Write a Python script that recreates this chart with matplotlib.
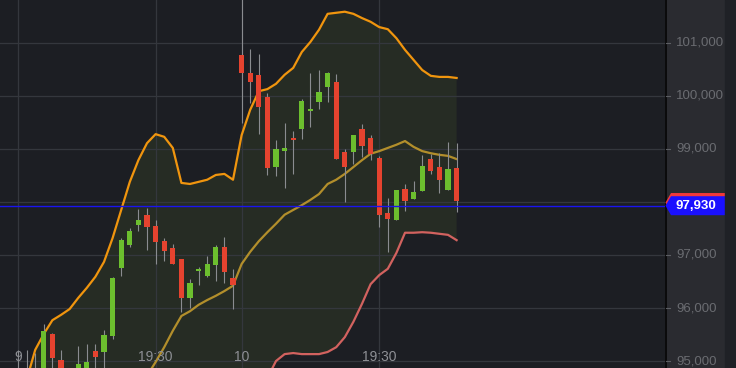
import matplotlib
matplotlib.use('Agg')
import matplotlib.pyplot as plt
import numpy as np
from matplotlib.patches import Polygon
import matplotlib.transforms as mtransforms

plt.rcParams['font.family'] = ['Liberation Sans', 'DejaVu Sans']

# OHLC candles (index = bar number)
opens = [94750, 94700, 94780, 94750, 95510, 95020, 94750, 94700, 94800, 95190,
         95170, 95470, 96760, 97190, 97570, 97755, 97550, 97260, 97130, 96920,
         96190, 96700, 96600, 96810, 97150, 96570, 100770, 100430, 100400, 99980,
         98660, 98960, 99210, 99380, 99717, 99890, 100170, 100260, 98940, 98940,
         99380, 99210, 98830, 97790, 97660, 98250, 98060, 98210, 98810, 98660,
         98230, 98640]
highs = [95200, 95210, 95150, 95700, 95530, 95210, 94820, 95280, 95320, 95320,
         95580, 96580, 97320, 97510, 97870, 97890, 97660, 97320, 97210, 96930,
         96550, 96770, 96980, 97190, 97340, 96740, 101950, 100890, 100790, 100060,
         99170, 99490, 99340, 99940, 100430, 100490, 100450, 100420, 99000, 99260,
         99470, 99260, 98870, 98080, 98230, 98340, 98400, 98890, 98910, 98920,
         99130, 99110]
lows = [94600, 94550, 94600, 94650, 94700, 94600, 94550, 94600, 94700, 94800,
        94850, 95420, 96600, 97150, 97450, 97090, 96830, 96890, 96830, 95920,
        96000, 96430, 96590, 96510, 96470, 95980, 99490, 99870, 99280, 98510,
        98490, 98260, 98530, 99190, 99420, 99760, 99890, 98810, 98000, 98720,
        98850, 98790, 97530, 97060, 97660, 97830, 98060, 98210, 98530, 98170,
        98230, 97810]
closes = [94820, 94800, 94720, 95566, 95060, 94700, 94650, 94940, 94980, 95080,
          95490, 96570, 97280, 97450, 97660, 97530, 97250, 97080, 96830, 96190,
          96470, 96740, 96830, 97150, 96680, 96430, 100430, 100260, 99790, 98640,
          99000, 99020, 99170, 99910, 99755, 100080, 100430, 98810, 98660, 99260,
          99060, 98910, 97750, 97680, 98230, 98020, 98190, 98680, 98590, 98420,
          98620, 98020]

# bollinger bands
upper_band = [94260, 94640, 95210, 95510, 95770, 95870, 95980, 96190, 96380, 96590,
              96870, 97320, 97850, 98380, 98790, 99110, 99280, 99230, 99020, 98360,
              98340, 98380, 98420, 98510, 98530, 98420, 99260, 99740, 100090, 100130,
              100230, 100400, 100530, 100830, 101020, 101250, 101550, 101570, 101590, 101550,
              101470, 101400, 101300, 101260, 101090, 100870, 100680, 100490, 100380, 100360,
              100360, 100340]
middle_band = [np.nan] * 14 + [
    94430, 94720, 94980, 95260, 95570, 95850, 95940, 96060, 96150, 96230,
    96320, 96420, 96830, 97060, 97260, 97430, 97590, 97760, 97850, 97940,
    98040, 98150, 98340, 98420, 98530, 98660, 98790, 98910, 98960, 99020,
    99080, 99150, 99040, 98960, 98920, 98890, 98870, 98810]
lower_band = [np.nan] * 28 + [
    94360, 94680, 95000, 95130, 95150, 95130, 95130, 95130, 95170, 95260,
    95450, 95740, 96080, 96450, 96620, 96740, 97040, 97420, 97420, 97430,
    97420, 97400, 97380, 97280]

time_ticks = [0, 16, 26, 42]
time_labels = ['9', '19:30', '10', '19:30']
price_ticks = [95000, 96000, 97000, 98000, 99000, 100000, 101000]
marker_price = 97930

bg = '#1c1e23'
grid_col = '#34373d'
up_col = '#6cbf2e'
down_col = '#e5432f'

W, H = 736, 368
fig = plt.figure(figsize=(W / 100, H / 100), dpi=100)
fig.patch.set_facecolor(bg)

ax = fig.add_axes([0, 0, 665 / W, 1])
ax.set_facecolor(bg)
ymin, ymax = 94868, 101811
ax.set_xlim(-2.093, 75.23)
ax.set_ylim(ymin, ymax)
for s in ax.spines.values():
    s.set_visible(False)
ax.set_xticks([])
ax.set_yticks([])

x = np.arange(len(closes))
up = np.array(upper_band, dtype=float)
mid = np.array(middle_band, dtype=float)
low = np.array(lower_band, dtype=float)

# band fill
ax.fill_between(x, up, np.where(np.isnan(low), ymin - 2000, low),
                color='#262c24', zorder=0.5, linewidth=0)

# grid
for p in price_ticks:
    ax.axhline(p, color=grid_col, lw=0.9, zorder=1)
for t in time_ticks:
    ax.axvline(t, color=grid_col, lw=0.9, zorder=1)

ax.plot(x, up, color='#f0950e', lw=1.6, zorder=3)
ax.plot(x, mid, color='#c29a2c', lw=1.6, alpha=0.9, zorder=3)
ax.plot(x, low, color='#d2625f', lw=1.6, zorder=3)

# candles
o = np.array(opens)
c = np.array(closes)
colors = [up_col if cc >= oo else down_col for oo, cc in zip(o, c)]
ax.vlines(x, lows, highs, color='#8a8c90', lw=0.8, zorder=4)
body = np.maximum(np.abs(c - o), 30)
ax.bar(x, body, bottom=np.minimum(o, c), width=0.6, color=colors, zorder=5, linewidth=0)

ax.axhline(marker_price, color='#1a14f0', lw=1.0, zorder=6)

trans = mtransforms.blended_transform_factory(ax.transData, ax.transAxes)
for t, lab in zip(time_ticks, time_labels):
    ax.text(t, 1 - 357 / H, lab, transform=trans, ha='center', va='center',
            color='#8e9095', fontsize=10, zorder=7)

# right price axis
ax2 = fig.add_axes([665 / W, 0, 60 / W, 1])
ax2.set_facecolor('#2a2b30')
ax2.set_xlim(0, 60)
ax2.set_ylim(ymin, ymax)
ax2.set_xticks([])
ax2.set_yticks([])
for s in ax2.spines.values():
    s.set_visible(False)
ax2.axvline(0.5, color='#050505', lw=1.2)
for p in price_ticks:
    ax2.plot([1, 5], [p, p], color='#5c5e63', lw=0.8)
    # label under the price tags is hidden
    if abs(p - marker_price) > 400:
        ax2.text(11, p, f'{p:,}', ha='left', va='center', color='#6a6c71', fontsize=9.5)

ppx = (ymax - ymin) / H
half = 9.5 * ppx
for price, col in [(closes[-1] - 30, '#f0393a'), (marker_price, '#1a10ff')]:
    pts = [(0.5, price), (6, price + half), (60, price + half), (60, price - half), (6, price - half)]
    ax2.add_patch(Polygon(pts, closed=True, color=col, zorder=5, linewidth=0))
ax2.text(11, marker_price, f'{marker_price:,}', ha='left', va='center', color='white',
         fontsize=9.5, fontweight='bold', zorder=6)

fig.patches.append(matplotlib.patches.Rectangle((725 / W, 0), 11 / W, 1, transform=fig.transFigure,
                                                color='#1f2126', zorder=0))

fig.savefig('out.png', dpi=100, facecolor=fig.get_facecolor())
